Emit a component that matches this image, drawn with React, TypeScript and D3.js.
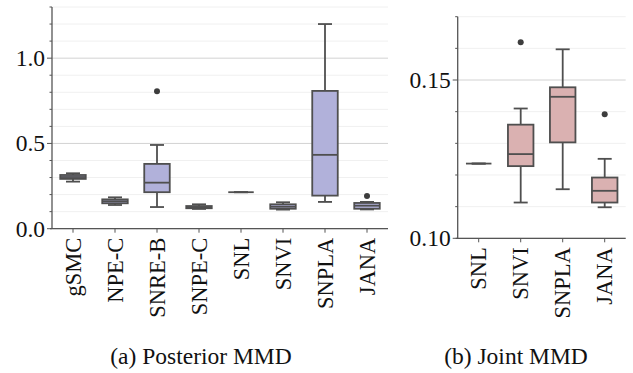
import React from "react";
import * as d3 from "d3";

// ---------- data ----------
const postCategories = ["gSMC", "NPE-C", "SNRE-B", "SNPE-C", "SNL", "SNVI", "SNPLA", "JANA"];
const postWhiskerLow = [0.276, 0.139, 0.127, 0.116, 0.214, 0.112, 0.157, 0.113];
const postQ1 = [0.292, 0.149, 0.214, 0.120, 0.214, 0.117, 0.194, 0.117];
const postMedian = [0.303, 0.161, 0.270, 0.126, 0.214, 0.129, 0.433, 0.135];
const postQ3 = [0.315, 0.172, 0.380, 0.133, 0.214, 0.143, 0.808, 0.151];
const postWhiskerHigh = [0.325, 0.184, 0.491, 0.143, 0.214, 0.155, 1.200, 0.157];
const postOutliers: number[][] = [[], [], [0.806], [], [], [], [], [0.192]];
const postTicks = [0.0, 0.5, 1.0];

const jointCategories = ["SNL", "SNVI", "SNPLA", "JANA"];
const jointWhiskerLow = [0.1236, 0.1113, 0.1155, 0.1098];
const jointQ1 = [0.1236, 0.1228, 0.1303, 0.1113];
const jointMedian = [0.1236, 0.1266, 0.1447, 0.1150];
const jointQ3 = [0.1236, 0.1359, 0.1477, 0.1192];
const jointWhiskerHigh = [0.1236, 0.1410, 0.1597, 0.1251];
const jointOutliers: number[][] = [[], [0.1619], [], [0.1392]];
const jointTicks = [0.10, 0.15];

const captions = ["(a) Posterior MMD", "(b) Joint MMD"];

// ---------- style ----------
const FONT = '"Liberation Serif"';
const EDGE = "#4f4f4f";
const AXIS = "#555555";
const SW = 1.8;

type PanelProps = {
  x0: number; x1: number; yTop: number; yBottom: number;
  domain: [number, number];
  categories: string[];
  lo: number[]; q1: number[]; med: number[]; q3: number[]; hi: number[];
  outliers: number[][];
  majorTicks: number[];
  minorStep: number;
  fmt: (v: number) => string;
  fill: string;
};

function Panel(p: PanelProps) {
  const x = d3.scaleBand<string>().domain(p.categories).range([p.x0, p.x1]).padding(0);
  const y = d3.scaleLinear().domain(p.domain).range([p.yBottom, p.yTop]);
  const boxW = 25.5;
  const capW = 14;
  const nMinor = Math.round((p.domain[1] - p.domain[0]) / p.minorStep);
  const minor = d3.range(0, nMinor + 1).map((i) => p.domain[0] + i * p.minorStep);
  const isMajor = (v: number) => p.majorTicks.some((m) => Math.abs(m - v) < 1e-9);
  return (
    <g>
      {minor.map((v, i) => (
        <line key={"mg" + i} x1={p.x0} x2={p.x1} y1={y(v)} y2={y(v)}
          stroke={isMajor(v) ? "#d2d2d2" : "#f0f0f0"} strokeWidth={1} />
      ))}
      {p.categories.map((c, i) => {
        const cx = (x(c) as number) + x.bandwidth() / 2;
        return (
          <g key={c}>
            <line x1={cx} x2={cx} y1={y(p.q3[i])} y2={y(p.hi[i])} stroke={EDGE} strokeWidth={SW} />
            <line x1={cx} x2={cx} y1={y(p.q1[i])} y2={y(p.lo[i])} stroke={EDGE} strokeWidth={SW} />
            <line x1={cx - capW / 2} x2={cx + capW / 2} y1={y(p.hi[i])} y2={y(p.hi[i])} stroke={EDGE} strokeWidth={SW} />
            <line x1={cx - capW / 2} x2={cx + capW / 2} y1={y(p.lo[i])} y2={y(p.lo[i])} stroke={EDGE} strokeWidth={SW} />
            <rect x={cx - boxW / 2} width={boxW} y={y(p.q3[i])}
              height={Math.max(0, y(p.q1[i]) - y(p.q3[i]))}
              fill={p.fill} stroke={EDGE} strokeWidth={SW} />
            <line x1={cx - boxW / 2} x2={cx + boxW / 2} y1={y(p.med[i])} y2={y(p.med[i])} stroke={EDGE} strokeWidth={SW} />
            {p.outliers[i].map((o, j) => (
              <circle key={j} cx={cx} cy={y(o)} r={3} fill="#3d3d3d" />
            ))}
            <line x1={cx} x2={cx} y1={p.yBottom} y2={p.yBottom + 4} stroke={AXIS} strokeWidth={1} />
            <text transform={`translate(${cx},${p.yBottom + 9}) rotate(-90)`}
              textAnchor="end" dy="0.34em" style={{ fontFamily: FONT, fontSize: 22.5 }} fill="#111">{c}</text>
          </g>
        );
      })}
      {minor.map((v, i) => (
        <line key={"yt" + i} x1={p.x0 - (isMajor(v) ? 5 : 2.5)} x2={p.x0} y1={y(v)} y2={y(v)}
          stroke={AXIS} strokeWidth={1} />
      ))}
      {p.majorTicks.map((v) => (
        <text key={"yl" + v} x={p.x0 - 7} y={y(v)} dy="0.34em" textAnchor="end"
          style={{ fontFamily: FONT, fontSize: 23.5 }} fill="#111">{p.fmt(v)}</text>
      ))}
      <line x1={p.x0} x2={p.x0} y1={p.yTop} y2={p.yBottom} stroke={AXIS} strokeWidth={1.3} />
      <line x1={p.x0 - 2} x2={p.x1} y1={p.yBottom} y2={p.yBottom} stroke={AXIS} strokeWidth={1.3} />
    </g>
  );
}

export default function App() {
  return (
    <svg width={633} height={373} style={{ position: "absolute", left: 0, top: 0, background: "#fff" }}>
      <rect width={633} height={373} fill="#fff" />
      <Panel x0={52} x1={388} yTop={7} yBottom={228.7} domain={[0, 1.3]}
        categories={postCategories} lo={postWhiskerLow} q1={postQ1} med={postMedian}
        q3={postQ3} hi={postWhiskerHigh} outliers={postOutliers}
        majorTicks={postTicks} minorStep={0.1} fmt={d3.format(".1f")} fill="#b1b1da" />
      <Panel x0={457.7} x1={625.7} yTop={16.7} yBottom={238.3} domain={[0.10, 0.17]}
        categories={jointCategories} lo={jointWhiskerLow} q1={jointQ1} med={jointMedian}
        q3={jointQ3} hi={jointWhiskerHigh} outliers={jointOutliers}
        majorTicks={jointTicks} minorStep={0.01} fmt={d3.format(".2f")} fill="#dab1b1" />
      <text x={201} y={364} textAnchor="middle" style={{ fontFamily: FONT, fontSize: 23.5 }} fill="#111">{captions[0]}</text>
      <text x={516} y={364} textAnchor="middle" style={{ fontFamily: FONT, fontSize: 23.5 }} fill="#111">{captions[1]}</text>
    </svg>
  );
}
